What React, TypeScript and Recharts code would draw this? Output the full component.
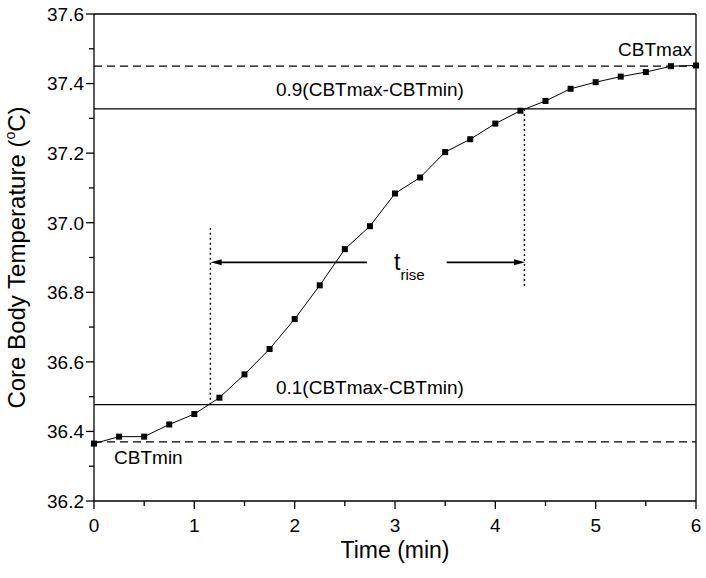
import React from 'react';
import { ComposedChart, Line, XAxis, YAxis, ReferenceLine, ReferenceDot, Label } from 'recharts';

if (typeof document !== 'undefined') document.body.style.margin = '0';

const FONT = '"Liberation Sans", Arial, sans-serif';

// sampled time points (min) and core body temperature (°C)
const times = [0, 0.25, 0.5, 0.75, 1, 1.25, 1.5, 1.75, 2, 2.25, 2.5, 2.75, 3, 3.25, 3.5, 3.75, 4, 4.25, 4.5, 4.75, 5, 5.25, 5.5, 5.75, 6];
const cbt = [36.365, 36.385, 36.385, 36.42, 36.45, 36.497, 36.564, 36.637, 36.723, 36.82, 36.924, 36.99, 37.084, 37.13, 37.203, 37.24, 37.285, 37.322, 37.35, 37.385, 37.404, 37.42, 37.433, 37.45, 37.452];

const xTicks = [0, 0.5, 1, 1.5, 2, 2.5, 3, 3.5, 4, 4.5, 5, 5.5, 6];
const xMajor = [0, 1, 2, 3, 4, 5, 6];
const yTicks = [36.2, 36.3, 36.4, 36.5, 36.6, 36.7, 36.8, 36.9, 37.0, 37.1, 37.2, 37.3, 37.4, 37.5, 37.6];
const yMajor = [36.2, 36.4, 36.6, 36.8, 37.0, 37.2, 37.4, 37.6];
const yMajorLabels = ['36.2', '36.4', '36.6', '36.8', '37.0', '37.2', '37.4', '37.6'];

// reference levels
const CBT_MIN = 36.37;
const CBT_MAX = 37.45;
const LEVEL_10 = 36.477;
const LEVEL_90 = 37.327;
const T_10 = 1.16;
const T_90 = 4.29;
const ARROW_Y = 36.886;
const DOTTED_TOP_10 = 36.985;
const DOTTED_BOTTOM_90 = 36.818;
const ARROW_LEFT = [2.72, 1.163];
const ARROW_RIGHT = [3.515, 4.296];

const data = times.map((t, i) => ({ t, cbt: cbt[i] }));

const isMajor = (list: number[], v: number) => list.some((m) => Math.abs(m - v) < 1e-6);

const XTick = (props: any) => {
  const { x, y, payload } = props;
  const major = isMajor(xMajor, payload.value);
  return (
    <g>
      <line x1={x} y1={y} x2={x} y2={y + (major ? 8 : 5)} stroke="#000" strokeWidth={1.3} />
      {major && (
        <text x={x} y={y + 31} textAnchor="middle" fontSize={19} fontFamily={FONT} fill="#000">
          {payload.value}
        </text>
      )}
    </g>
  );
};

const YTick = (props: any) => {
  const { x, y, payload } = props;
  const idx = yMajor.findIndex((m) => Math.abs(m - payload.value) < 1e-6);
  const major = idx >= 0;
  return (
    <g>
      <line x1={x} y1={y} x2={x - (major ? 8 : 5)} y2={y} stroke="#000" strokeWidth={1.3} />
      {major && (
        <text x={x - 10} y={y} dy="0.36em" textAnchor="end" fontSize={19} fontFamily={FONT} fill="#000">
          {yMajorLabels[idx]}
        </text>
      )}
    </g>
  );
};

const Square = (props: any) => {
  const { cx, cy } = props;
  if (cx == null || cy == null) return null;
  return <rect x={cx - 3} y={cy - 3} width={6} height={6} fill="#000" />;
};

const Arrow = (props: any) => {
  const { x1, y1, x2, y2 } = props;
  const dir = x2 > x1 ? 1 : -1;
  return (
    <g>
      <line x1={x1} y1={y1} x2={x2 - dir * 8} y2={y2} stroke="#000" strokeWidth={1.6} />
      <polygon points={`${x2},${y2} ${x2 - dir * 11},${y2 - 3} ${x2 - dir * 11},${y2 + 3}`} fill="#000" />
    </g>
  );
};

const note = (text: string, anchor: string, dx: number, dy: number) => (p: any) => {
  const vb = p.viewBox;
  return (
    <text x={vb.x + dx} y={vb.y + dy} textAnchor={anchor} fontSize={19} fontFamily={FONT} fill="#000">
      {text}
    </text>
  );
};

const RiseLabel = (p: any) => {
  const vb = p.viewBox;
  return (
    <text x={vb.x - 1} y={vb.y + 8} fontFamily={FONT} fill="#000">
      <tspan fontSize={23}>t</tspan>
      <tspan fontSize={15} dy={10}>rise</tspan>
    </text>
  );
};

const YTitle = (p: any) => {
  const vb = p.viewBox;
  const cx = vb.x + 25;
  const cy = vb.y + vb.height / 2;
  return (
    <text x={cx} y={cy} transform={`rotate(-90 ${cx} ${cy})`} textAnchor="middle" fontSize={24} fontFamily={FONT} fill="#000">
      Core Body Temperature (
      <tspan fontSize={14} dy={-10}>o</tspan>
      <tspan dy={10}>C)</tspan>
    </text>
  );
};

const XTitle = (p: any) => {
  const vb = p.viewBox;
  return (
    <text x={vb.x + vb.width / 2} y={vb.y + 57} textAnchor="middle" fontSize={23} fontFamily={FONT} fill="#000">
      Time (min)
    </text>
  );
};

export default function App() {
  return (
    <div style={{ width: 706, height: 578, background: '#fff' }}>
      <ComposedChart width={706} height={578} data={data} margin={{ top: 14, right: 10, left: 0, bottom: 17 }}>
        <XAxis
          dataKey="t"
          type="number"
          domain={[0, 6]}
          ticks={xTicks}
          interval={0}
          height={60}
          tickSize={0}
          tickMargin={0}
          tickLine={false}
          axisLine={{ stroke: '#000', strokeWidth: 1.3 }}
          tick={<XTick />}
          label={<Label content={XTitle} />}
        />
        <YAxis
          type="number"
          domain={[36.2, 37.6]}
          ticks={yTicks}
          interval={0}
          width={94}
          tickSize={0}
          tickMargin={0}
          tickLine={false}
          axisLine={{ stroke: '#000', strokeWidth: 1.3 }}
          tick={<YTick />}
          label={<Label content={YTitle} />}
        />
        {/* frame */}
        <ReferenceLine y={37.6} stroke="#000" strokeWidth={1.3} />
        <ReferenceLine x={6} stroke="#000" strokeWidth={1.3} />

        <ReferenceLine y={CBT_MAX} stroke="#000" strokeWidth={1.2} strokeDasharray="8 5" />
        <ReferenceLine y={CBT_MIN} stroke="#000" strokeWidth={1.2} strokeDasharray="8 5" />
        <ReferenceLine y={LEVEL_90} stroke="#000" strokeWidth={1.2} />
        <ReferenceLine y={LEVEL_10} stroke="#000" strokeWidth={1.2} />
        <ReferenceLine
          segment={[{ x: T_10, y: LEVEL_10 }, { x: T_10, y: DOTTED_TOP_10 }]}
          stroke="#000"
          strokeWidth={1.4}
          strokeDasharray="2 3"
        />
        <ReferenceLine
          segment={[{ x: T_90, y: DOTTED_BOTTOM_90 }, { x: T_90, y: LEVEL_90 }]}
          stroke="#000"
          strokeWidth={1.4}
          strokeDasharray="2 3"
        />
        <ReferenceLine segment={[{ x: ARROW_LEFT[0], y: ARROW_Y }, { x: ARROW_LEFT[1], y: ARROW_Y }]} shape={Arrow} />
        <ReferenceLine segment={[{ x: ARROW_RIGHT[0], y: ARROW_Y }, { x: ARROW_RIGHT[1], y: ARROW_Y }]} shape={Arrow} />

        <ReferenceDot x={6} y={CBT_MAX} r={0} fill="none" stroke="none" label={{ content: note('CBTmax', 'end', -4, -10) }} />
        <ReferenceDot x={0.2} y={CBT_MIN} r={0} fill="none" stroke="none" label={{ content: note('CBTmin', 'start', 0, 22) }} />
        <ReferenceDot x={2.75} y={LEVEL_90} r={0} fill="none" stroke="none" label={{ content: note('0.9(CBTmax-CBTmin)', 'middle', 0, -13) }} />
        <ReferenceDot x={2.75} y={LEVEL_10} r={0} fill="none" stroke="none" label={{ content: note('0.1(CBTmax-CBTmin)', 'middle', 0, -11) }} />
        <ReferenceDot x={3.0} y={ARROW_Y} r={0} fill="none" stroke="none" label={{ content: RiseLabel }} />

        <Line
          dataKey="cbt"
          type="linear"
          stroke="#000"
          strokeWidth={1}
          dot={<Square />}
          activeDot={false}
          isAnimationActive={false}
        />
      </ComposedChart>
    </div>
  );
}
